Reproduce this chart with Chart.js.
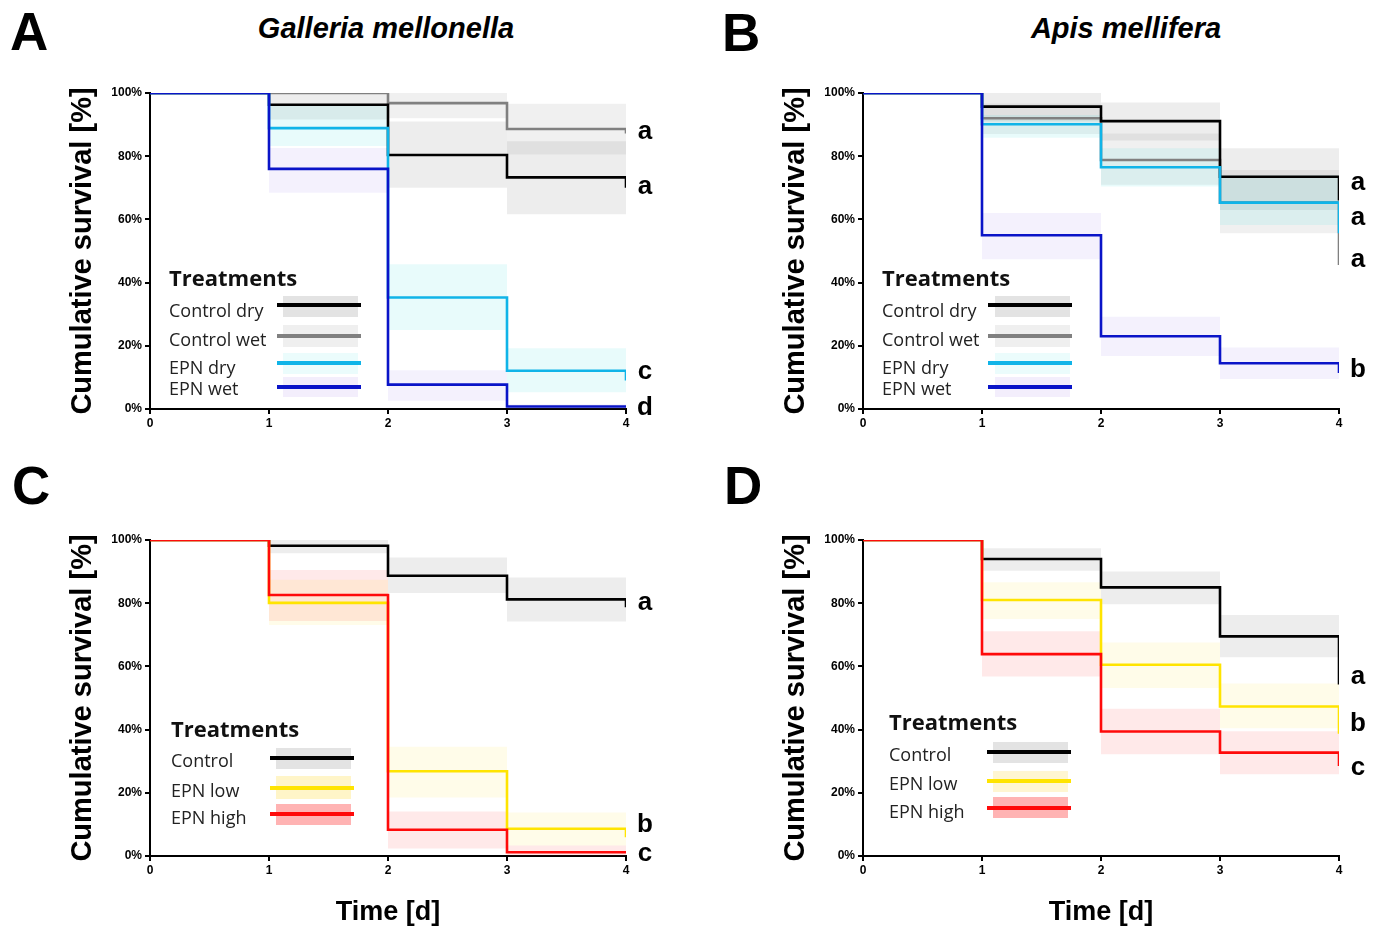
<!DOCTYPE html>
<html>
<head>
<meta charset="utf-8">
<script src="https://cdn.jsdelivr.net/npm/chart.js@4.4.1/dist/chart.umd.min.js"></script>
<style>
body{margin:0;width:1381px;height:928px;overflow:hidden;background:#fff;position:relative;font-family:"Liberation Sans",Arial,sans-serif}
canvas{position:absolute}
.big{position:absolute;font-weight:bold;font-size:53px;line-height:53px}
.ttl{position:absolute;font-weight:bold;font-style:italic;font-size:29px;line-height:32px;transform:translateX(-50%);white-space:nowrap}
.lg{position:absolute;font-family:"Open Sans",sans-serif;font-size:18px;line-height:24px;color:#222;white-space:nowrap}
.lgt{position:absolute;font-family:"Open Sans",sans-serif;font-weight:bold;font-size:22px;line-height:28px;color:#111;white-space:nowrap}
.sw{position:absolute}
</style>
</head>
<body>
<div class="big" style="left:10px;top:5px">A</div>
<div class="big" style="left:722px;top:6px">B</div>
<div class="big" style="left:12px;top:459px">C</div>
<div class="big" style="left:724px;top:459px">D</div>
<div class="ttl" style="left:386px;top:12px">Galleria mellonella</div>
<div class="ttl" style="left:1126px;top:12px">Apis mellifera</div>

<canvas id="cA" width="668" height="380" style="left:0;top:60px"></canvas>
<canvas id="cB" width="668" height="380" style="left:713px;top:60px"></canvas>
<canvas id="cC" width="668" height="430" style="left:0;top:507px"></canvas>
<canvas id="cD" width="668" height="430" style="left:713px;top:507px"></canvas>

<script>
const days = [0, 1, 2, 3, 4];
const yTicks = [0, 20, 40, 60, 80, 100];

// A - Galleria mellonella
const gmLabels = ['Control dry', 'Control wet', 'EPN dry', 'EPN wet'];
const gmCtrlDry   = [100, 96.3, 80.4, 73.3, 70.0];
const gmCtrlDryHi = [100, 100, 91.0, 84.7, 84.7];
const gmCtrlDryLo = [100, 91.6, 70.0, 61.6, 61.6];
const gmCtrlWet   = [100, 100, 96.8, 88.6, 87.2];
const gmCtrlWetHi = [100, 100, 100, 96.6, 96.6];
const gmCtrlWetLo = [100, 100, 92.0, 80.5, 80.5];
const gmEpnDry    = [100, 88.9, 35.3, 12.1, 9.0];
const gmEpnDryHi  = [100, 96.0, 45.8, 19.2, 19.2];
const gmEpnDryLo  = [100, 83.2, 25.0, 5.3, 5.3];
const gmEpnWet    = [100, 76.0, 7.7, 0.8, 0.5];
const gmEpnWetHi  = [100, 82.6, 12.3, 1.5, 1.5];
const gmEpnWetLo  = [100, 68.4, 2.6, 0, 0];
const gmLetters = ['a', 'a', 'c', 'd'];
const gmLetterY = [87.7, 70.3, 11.7, 0.3];

// B - Apis mellifera
const amLabels = ['Control dry', 'Control wet', 'EPN dry', 'EPN wet'];
const amCtrlDry   = [100, 95.7, 91.1, 73.5, 66.0];
const amCtrlDryHi = [100, 100, 97.0, 82.5, 82.5];
const amCtrlDryLo = [100, 91.0, 85.0, 63.0, 63.0];
const amCtrlWet   = [100, 92.0, 78.8, 65.3, 45.6];
const amCtrlWetHi = [100, 96.7, 87.2, 75.6, 75.6];
const amCtrlWetLo = [100, 87.0, 71.0, 55.6, 55.6];
const amEpnDry    = [100, 90.1, 76.5, 65.3, 55.6];
const amEpnDryHi  = [100, 93.0, 82.5, 74.0, 74.0];
const amEpnDryLo  = [100, 85.8, 70.4, 58.2, 58.2];
const amEpnWet    = [100, 55.0, 23.0, 14.5, 11.4];
const amEpnWetHi  = [100, 62.0, 29.2, 19.5, 19.5];
const amEpnWetLo  = [100, 47.4, 16.8, 9.5, 9.5];
const amLetters = ['a', 'a', 'a', 'b'];
const amLetterY = [71.5, 60.4, 47.2, 12.3];

// C - Galleria, dose
const gdLabels = ['Control', 'EPN low', 'EPN high'];
const gdCtrl     = [100, 98.2, 88.7, 81.2, 78.7];
const gdCtrlHi   = [100, 100, 94.5, 88.1, 88.1];
const gdCtrlLo   = [100, 95.8, 83.2, 74.2, 74.2];
const gdLow      = [100, 80.1, 26.8, 8.6, 5.9];
const gdLowHi    = [100, 87.4, 34.6, 13.8, 13.8];
const gdLowLo    = [100, 73.1, 18.5, 3.3, 3.3];
const gdHigh     = [100, 82.6, 8.3, 1.2, 1.2];
const gdHighHi   = [100, 90.5, 14.1, 3.3, 3.3];
const gdHighLo   = [100, 74.4, 2.4, 0, 0];
const gdLetters = ['a', 'b', 'c'];
const gdLetterY = [80.1, 9.8, 0.6];

// D - Apis, dose
const adLabels = ['Control', 'EPN low', 'EPN high'];
const adCtrl     = [100, 94.0, 85.0, 69.5, 54.3];
const adCtrlHi   = [100, 97.4, 90.0, 76.3, 76.3];
const adCtrlLo   = [100, 90.3, 79.7, 62.9, 62.9];
const adLow      = [100, 81.0, 60.5, 47.3, 38.7];
const adLowHi    = [100, 86.6, 67.6, 54.6, 54.6];
const adLowLo    = [100, 75.0, 53.2, 40.4, 40.4];
const adHigh     = [100, 63.9, 39.4, 32.7, 28.5];
const adHighHi   = [100, 71.1, 46.6, 39.5, 39.5];
const adHighLo   = [100, 56.8, 32.2, 25.9, 25.9];
const adLetters = ['a', 'b', 'c'];
const adLetterY = [56.6, 41.8, 27.8];

// couleurs
const cBlack = '#000000', cGray = '#808080', cCyan = '#10b4e8', cBlue = '#0a14c8';
const cRed = '#ff0a0a', cYellow = '#ffe400';
const bGray = 'rgba(0,0,0,0.07)', bGray2 = 'rgba(0,0,0,0.06)';
const bCyan = 'rgba(0,215,215,0.09)', bBlue = 'rgba(100,50,230,0.07)';
const bRed = 'rgba(255,0,0,0.085)', bYellow = 'rgba(255,225,40,0.1)';

const pts = arr => days.map((d, i) => ({x: d, y: arr[i]}));

const letterPlugin = {
  id: 'letters',
  afterDatasetsDraw(chart, args, opts) {
    const {ctx, chartArea, scales} = chart;
    ctx.save();
    ctx.font = 'bold 26px "Liberation Sans", Arial';
    ctx.fillStyle = '#000';
    ctx.textAlign = 'center';
    ctx.textBaseline = 'middle';
    opts.text.forEach((t, i) => {
      ctx.fillText(t, chartArea.right + 19, scales.y.getPixelForValue(opts.y[i]));
    });
    ctx.restore();
  }
};

function makePanel(id, series, letters, letterY, xTitle) {
  const datasets = [];
  series.forEach((s, i) => {
    datasets.push({data: pts(s.line), borderColor: s.color, borderWidth: 2.6, pointRadius: 0,
      stepped: true, fill: false, order: i});
  });
  series.forEach((s, i) => {
    datasets.push({data: pts(s.hi), borderColor: 'rgba(0,0,0,0)', borderWidth: 0, pointRadius: 0,
      stepped: true, fill: '+1', backgroundColor: s.band, order: 10 + i});
    datasets.push({data: pts(s.lo), borderColor: 'rgba(0,0,0,0)', borderWidth: 0, pointRadius: 0,
      stepped: true, fill: false, order: 10 + i});
  });
  const canvas = document.getElementById(id);
  const H = canvas.height;
  const tickFont = {family: '"Liberation Sans", Arial', size: 12, weight: 'bold'};
  const axisGrid = {display: true, drawOnChartArea: false, drawTicks: true, tickLength: 5, color: '#000', lineWidth: 2};
  new Chart(canvas, {
    type: 'line',
    data: {datasets: datasets},
    options: {
      responsive: false,
      animation: false,
      layout: {padding: {top: 33, left: 62, right: 42, bottom: 4}},
      plugins: {
        legend: {display: false},
        tooltip: {enabled: false},
        letters: {text: letters, y: letterY}
      },
      scales: {
        x: {
          type: 'linear', min: 0, max: 4,
          ticks: {stepSize: 1, color: '#000', font: tickFont, padding: 2},
          grid: axisGrid,
          border: {color: '#000', width: 2},
          title: {display: xTitle, text: 'Time [d]', color: '#000',
            font: {family: '"Liberation Sans", Arial', size: 27, weight: 'bold'}},
          afterFit: s => { s.height = H - 33 - 316 - 4; }
        },
        y: {
          min: 0, max: 100,
          afterBuildTicks: s => { s.ticks = yTicks.map(v => ({value: v})); },
          ticks: {color: '#000', font: tickFont, padding: 3, callback: v => v + '%'},
          grid: axisGrid,
          border: {color: '#000', width: 2},
          title: {display: true, text: 'Cumulative survival [%]', color: '#000',
            font: {family: '"Liberation Sans", Arial', size: 29, weight: 'bold'}},
          afterFit: s => { s.width = 88; }
        }
      }
    },
    plugins: [letterPlugin]
  });
}

makePanel('cA', [
  {line: gmEpnWet, hi: gmEpnWetHi, lo: gmEpnWetLo, color: cBlue, band: bBlue},
  {line: gmEpnDry, hi: gmEpnDryHi, lo: gmEpnDryLo, color: cCyan, band: bCyan},
  {line: gmCtrlDry, hi: gmCtrlDryHi, lo: gmCtrlDryLo, color: cBlack, band: bGray},
  {line: gmCtrlWet, hi: gmCtrlWetHi, lo: gmCtrlWetLo, color: cGray, band: bGray2}
], gmLetters, gmLetterY, false);

makePanel('cB', [
  {line: amEpnWet, hi: amEpnWetHi, lo: amEpnWetLo, color: cBlue, band: bBlue},
  {line: amEpnDry, hi: amEpnDryHi, lo: amEpnDryLo, color: cCyan, band: bCyan},
  {line: amCtrlDry, hi: amCtrlDryHi, lo: amCtrlDryLo, color: cBlack, band: bGray},
  {line: amCtrlWet, hi: amCtrlWetHi, lo: amCtrlWetLo, color: cGray, band: bGray2}
], amLetters, amLetterY, false);

makePanel('cC', [
  {line: gdHigh, hi: gdHighHi, lo: gdHighLo, color: cRed, band: bRed},
  {line: gdLow, hi: gdLowHi, lo: gdLowLo, color: cYellow, band: bYellow},
  {line: gdCtrl, hi: gdCtrlHi, lo: gdCtrlLo, color: cBlack, band: bGray}
], gdLetters, gdLetterY, true);

makePanel('cD', [
  {line: adHigh, hi: adHighHi, lo: adHighLo, color: cRed, band: bRed},
  {line: adLow, hi: adLowHi, lo: adLowLo, color: cYellow, band: bYellow},
  {line: adCtrl, hi: adCtrlHi, lo: adCtrlLo, color: cBlack, band: bGray}
], adLetters, adLetterY, true);

// légendes (HTML)
function addLegend(labels, colors, swatches, pos) {
  const body = document.body;
  const t = document.createElement('div');
  t.className = 'lgt';
  t.textContent = 'Treatments';
  t.style.left = pos.x + 'px';
  t.style.top = (pos.titleY - 14) + 'px';
  body.appendChild(t);
  labels.forEach((lab, i) => {
    const r = pos.rows[i];
    const band = document.createElement('div');
    band.className = 'sw';
    band.style.cssText = `left:${pos.bx0}px;width:${pos.bx1 - pos.bx0}px;top:${r[2]}px;height:${r[3] - r[2]}px;background:${swatches[i]}`;
    body.appendChild(band);
    const ln = document.createElement('div');
    ln.className = 'sw';
    ln.style.cssText = `left:${pos.lx0}px;width:${pos.lx1 - pos.lx0}px;top:${r[1] - 2}px;height:4px;background:${colors[i]}`;
    body.appendChild(ln);
    const tx = document.createElement('div');
    tx.className = 'lg';
    tx.textContent = lab;
    tx.style.left = pos.x + 'px';
    tx.style.top = (r[0] - 12) + 'px';
    body.appendChild(tx);
  });
}

const rowsTop = [[310, 305, 296, 317], [339, 336, 325, 347], [367, 363, 353, 374], [388, 387, 377, 397]];
const swTop = ['#e3e3e3', '#efefef', '#ebfcfc', '#f3eefc'];
addLegend(gmLabels, [cBlack, cGray, cCyan, cBlue], swTop,
  {x: 169, titleY: 277, lx0: 277, lx1: 361, bx0: 283, bx1: 358, rows: rowsTop});
addLegend(amLabels, [cBlack, cGray, cCyan, cBlue], swTop,
  {x: 882, titleY: 277, lx0: 988, lx1: 1072, bx0: 995, bx1: 1070, rows: rowsTop});
addLegend(gdLabels, [cBlack, cYellow, cRed], ['#e3e3e3', '#fff5c8', '#ffb3b3'],
  {x: 171, titleY: 728, lx0: 270, lx1: 354, bx0: 276, bx1: 351,
   rows: [[760, 758, 748, 769], [790, 788, 776, 799], [817, 814, 804, 825]]});
addLegend(adLabels, [cBlack, cYellow, cRed], ['#e3e3e3', '#fff6d2', '#ffb3b3'],
  {x: 889, titleY: 721, lx0: 987, lx1: 1071, bx0: 993, bx1: 1068,
   rows: [[754, 752, 742, 763], [783, 781, 771, 792], [811, 808, 797, 818]]});
</script>
</body>
</html>
